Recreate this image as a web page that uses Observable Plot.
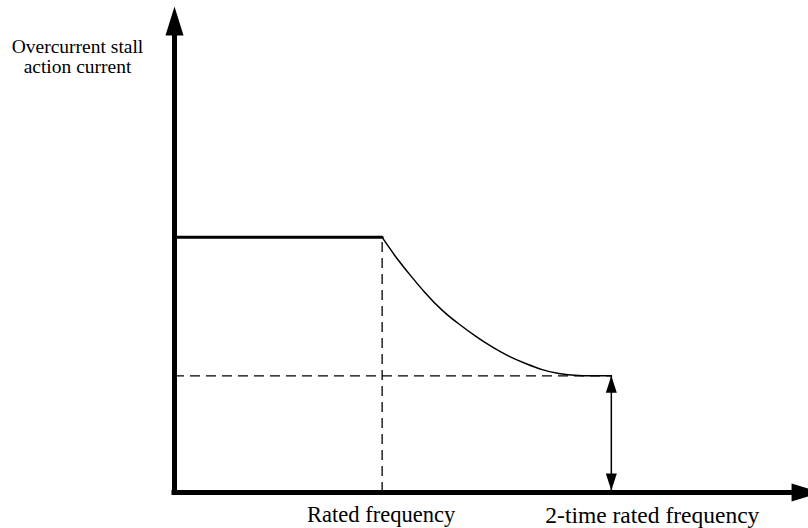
<!DOCTYPE html>
<html>
<head>
<meta charset="utf-8">
<script src="https://cdn.jsdelivr.net/npm/d3@7"></script>
<script src="https://cdn.jsdelivr.net/npm/@observablehq/plot@0.6"></script>
<style>
  html, body { margin: 0; padding: 0; background: #fff; overflow: hidden; }
  #chart svg { display: block; }
</style>
</head>
<body>
<div id="chart"></div>
<script>
// ---- data (normalized units: x = frequency, y = current) ----
const yAxisLabel = ["Overcurrent stall", "action current"];
const freqLabels = ["Rated frequency", "2-time rated frequency"];
const freqValues = [32.75, 68.9];         // rated, 2-time rated
const currentLevels = [52.5, 24.0];       // constant level, minimum level
const curveX = [32.75, 34.9, 37.0, 39.6, 42.2, 44.8, 47.5, 50.1, 52.7, 55.4, 58.0, 60.6, 63.2, 68.9];
const curveY = [52.5, 48.4, 45.0, 40.9, 37.4, 34.7, 32.1, 29.9, 28.0, 26.5, 25.2, 24.4, 24.0, 24.0];

const [rated, twice] = freqValues;
const [high, low] = currentLevels;
const curve = curveX.map((x, i) => ({x, y: curveY[i]}));

// filled triangular arrowhead, tip at origin, pointing up before rotation
function head(len, w) {
  return {
    draw(ctx) {
      ctx.moveTo(0, 0);
      ctx.lineTo(-w / 2, len);
      ctx.lineTo(w / 2, len);
      ctx.closePath();
    }
  };
}
const bigHead = head(29, 18);
const smallHead = head(17, 11);

const font = "'Liberation Serif', 'Times New Roman', serif";

const chart = Plot.plot({
  width: 808,
  height: 528,
  marginLeft: 174,
  marginRight: 0,
  marginTop: 6,
  marginBottom: 36,
  x: {domain: [0, 100], axis: null},
  y: {domain: [0, 100], axis: null},
  style: {fontFamily: font, background: "white", overflow: "hidden"},
  marks: [
    // dashed guides
    Plot.ruleX([rated], {y1: 0, y2: high, stroke: "black", strokeWidth: 1.3, strokeDasharray: "10,6"}),
    Plot.ruleY([low], {x1: 0, x2: twice, stroke: "black", strokeWidth: 1.3, strokeDasharray: "10,6"}),
    // constant segment
    Plot.line([{x: 0, y: high}, {x: rated, y: high}], {x: "x", y: "y", stroke: "black", strokeWidth: 3}),
    // decreasing curve
    Plot.line(curve, {x: "x", y: "y", stroke: "black", strokeWidth: 1.5, curve: "basis"}),
    // double arrow at 2-time rated frequency
    Plot.ruleX([twice], {y1: low, y2: 0, stroke: "black", strokeWidth: 1.5}),
    Plot.dot([{x: twice, y: low}], {x: "x", y: "y", symbol: smallHead, fill: "black", stroke: "none", rotate: 0}),
    Plot.dot([{x: twice, y: 0}], {x: "x", y: "y", symbol: smallHead, fill: "black", stroke: "none", rotate: 180, dy: -2}),
    // axes
    Plot.ruleX([0], {y1: -0.5, y2: 95, stroke: "black", strokeWidth: 5}),
    Plot.ruleY([0], {x1: -0.4, x2: 98, stroke: "black", strokeWidth: 5}),
    Plot.dot([{x: 0, y: 100}], {x: "x", y: "y", symbol: bigHead, fill: "black", stroke: "none", rotate: 0}),
    Plot.dot([{x: 101.9, y: 0}], {x: "x", y: "y", symbol: bigHead, fill: "black", stroke: "none", rotate: 90}),
    // labels
    Plot.text([yAxisLabel.join("\n")], {frameAnchor: "top-left", dx: -97, dy: 32.5, text: d => d,
      textAnchor: "middle", lineAnchor: "top", lineHeight: 1.03, fontSize: 19.5, fill: "black"}),
    Plot.text([freqLabels[0]], {x: rated, y: 0, text: d => d, textAnchor: "middle", lineAnchor: "top",
      dy: 14, dx: -1, fontSize: 22.5, fill: "black"}),
    Plot.text([freqLabels[1]], {x: twice, y: 0, text: d => d, textAnchor: "middle", lineAnchor: "top",
      dx: 41, dy: 14, fontSize: 23.5, fill: "black"})
  ]
});
document.getElementById("chart").appendChild(chart);
</script>
</body>
</html>
